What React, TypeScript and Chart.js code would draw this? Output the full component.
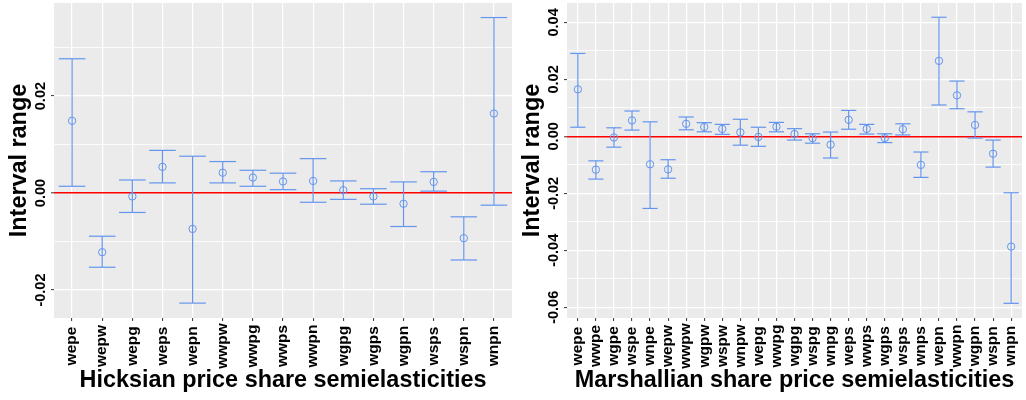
import React, { useEffect, useRef } from 'react';
import { Chart, registerables } from 'chart.js';

Chart.register(...registerables);

// ---------------- data ----------------
const hicksLabels = ['wepe', 'wepw', 'wepg', 'weps', 'wepn', 'wwpw', 'wwpg', 'wwps', 'wwpn', 'wgpg', 'wgps', 'wgpn', 'wsps', 'wspn', 'wnpn'];
const hicksEst = [0.0149, -0.0122, -0.0007, 0.0054, -0.0074, 0.0042, 0.0032, 0.0024, 0.0025, 0.0006, -0.0007, -0.0022, 0.0023, -0.0093, 0.0164];
const hicksUpper = [0.0277, -0.0089, 0.0027, 0.0088, 0.0076, 0.0065, 0.0047, 0.0041, 0.0071, 0.0025, 0.0009, 0.0023, 0.0044, -0.0049, 0.0362];
const hicksLower = [0.0014, -0.0153, -0.0040, 0.0021, -0.0227, 0.0021, 0.0014, 0.0007, -0.0019, -0.0013, -0.0023, -0.0069, 0.0004, -0.0138, -0.0025];
const hicksYTicks = [-0.02, -0.01, 0, 0.01, 0.02, 0.03];
const hicksYLabelled = [-0.02, 0, 0.02];

const marshLabels = ['wepe', 'wwpe', 'wgpe', 'wspe', 'wnpe', 'wepw', 'wwpw', 'wgpw', 'wspw', 'wnpw', 'wepg', 'wwpg', 'wgpg', 'wspg', 'wnpg', 'weps', 'wwps', 'wgps', 'wsps', 'wnps', 'wepn', 'wwpn', 'wgpn', 'wspn', 'wnpn'];
const marshEst = [0.0165, -0.0117, -0.0004, 0.0056, -0.0098, -0.0116, 0.0044, 0.0033, 0.0026, 0.0014, -0.0002, 0.0034, 0.0008, -0.0006, -0.0029, 0.0058, 0.0026, -0.0006, 0.0025, -0.0100, 0.0265, 0.0144, 0.0040, -0.0061, -0.0387];
const marshUpper = [0.0291, -0.0086, 0.0030, 0.0089, 0.0051, -0.0082, 0.0068, 0.0048, 0.0042, 0.0060, 0.0032, 0.0049, 0.0027, 0.0009, 0.0015, 0.0091, 0.0042, 0.0009, 0.0044, -0.0055, 0.0418, 0.0194, 0.0086, -0.0013, -0.0198];
const marshLower = [0.0032, -0.0150, -0.0038, 0.0022, -0.0253, -0.0147, 0.0023, 0.0016, 0.0007, -0.0031, -0.0035, 0.0016, -0.0013, -0.0024, -0.0076, 0.0025, 0.0008, -0.0022, 0.0005, -0.0144, 0.0110, 0.0097, -0.0006, -0.0108, -0.0586];
const marshYTicks = [-0.06, -0.05, -0.04, -0.03, -0.02, -0.01, 0, 0.01, 0.02, 0.03, 0.04];
const marshYLabelled = [-0.06, -0.04, -0.02, 0, 0.02, 0.04];

// ---------------- styles ----------------
const BLUE = '#6495ED';
const RED = '#FF0000';
const PANEL_BG = '#EBEBEB';
const FONT = "'Liberation Sans', Arial, sans-serif";

const panelBg = {
  id: 'panelBg',
  beforeDraw(chart: any) {
    const { ctx, chartArea } = chart;
    ctx.save();
    ctx.fillStyle = PANEL_BG;
    ctx.fillRect(chartArea.left, chartArea.top, chartArea.right - chartArea.left, chartArea.bottom - chartArea.top);
    ctx.restore();
  },
};

type PanelProps = {
  left: number;
  labels: string[];
  est: number[];
  upper: number[];
  lower: number[];
  yMin: number;
  yMax: number;
  yTicks: number[];
  yLabelled: number[];
  xTitle: string;
  padRight: number;
  capR: number;
};

function Panel(p: PanelProps) {
  const ref = useRef<HTMLCanvasElement | null>(null);
  useEffect(() => {
    if (!ref.current) return;
    const n = p.labels.length;
    const isMajor = (v: number) => p.yLabelled.some((m) => Math.abs(m - v) < 1e-9);
    const chart = new Chart(ref.current, {
      type: 'scatter',
      data: {
        datasets: [
          {
            type: 'bar',
            data: p.labels.map((_, i) => ({ x: i, y: [p.lower[i], p.upper[i]] })),
            backgroundColor: BLUE,
            borderWidth: 0,
            barThickness: 1.2,
            inflateAmount: 0,
          } as any,
          {
            type: 'scatter',
            data: p.upper.map((v, i) => ({ x: i, y: v })),
            pointStyle: 'line',
            pointRadius: p.capR,
            borderColor: BLUE,
            pointBorderWidth: 1.2,
            showLine: false,
          } as any,
          {
            type: 'scatter',
            data: p.lower.map((v, i) => ({ x: i, y: v })),
            pointStyle: 'line',
            pointRadius: p.capR,
            borderColor: BLUE,
            pointBorderWidth: 1.2,
            showLine: false,
          } as any,
          {
            type: 'scatter',
            data: p.est.map((v, i) => ({ x: i, y: v })),
            pointStyle: 'circle',
            pointRadius: 3.7,
            backgroundColor: 'rgba(0,0,0,0)',
            borderColor: BLUE,
            pointBorderWidth: 1,
            showLine: false,
          } as any,
        ],
      },
      options: {
        animation: false,
        responsive: false,
        devicePixelRatio: 1,
        layout: { autoPadding: false, padding: { top: 3, right: p.padRight, left: 0, bottom: 0 } },
        plugins: { legend: { display: false }, tooltip: { enabled: false } },
        scales: {
          x: {
            type: 'linear',
            min: -0.6,
            max: n - 1 + 0.6,
            offset: false,
            afterBuildTicks: (s: any) => {
              s.ticks = p.labels.map((_, i) => ({ value: i }));
            },
            afterFit: (s: any) => {
              s.height = 82;
              s.paddingLeft = 0;
              s.paddingRight = 0;
              s._getXAxisLabelAlignment = () => 'center';
            },
            ticks: {
              autoSkip: false,
              minRotation: 90,
              maxRotation: 90,
              padding: 25,
              color: '#000',
              font: { family: FONT, size: 15.5, weight: 'bold' },
              callback: (v: any) => p.labels[Math.round(Number(v))] ?? '',
            },
            grid: {
              offset: false,
              color: '#FFFFFF',
              lineWidth: 1.2,
              tickColor: '#333333',
              tickLength: 3,
              tickWidth: 1,
            },
            border: { display: false },
            title: {
              display: true,
              text: p.xTitle,
              color: '#000',
              font: { family: FONT, size: 23.4, weight: 'bold', lineHeight: 1.2 },
              padding: { top: 0, bottom: 5.3 },
            },
          },
          y: {
            type: 'linear',
            min: p.yMin,
            max: p.yMax,
            afterBuildTicks: (s: any) => {
              s.ticks = p.yTicks.map((v) => ({ value: v }));
            },
            afterFit: (s: any) => {
              s.width = 54;
              s.paddingTop = 0;
              s.paddingBottom = 0;
            },
            ticks: {
              autoSkip: false,
              minRotation: 90,
              maxRotation: 90,
              crossAlign: 'center',
              padding: -7,
              color: '#000',
              font: { family: FONT, size: 14.5, weight: 'bold' },
              callback: (v: any) => (isMajor(Number(v)) ? Number(v).toFixed(2) : ''),
            },
            grid: {
              color: (c: any) => (Math.abs(c.tick?.value ?? 1) < 1e-9 ? RED : '#FFFFFF'),
              lineWidth: (c: any) => {
                const v = c.tick?.value ?? 1;
                if (Math.abs(v) < 1e-9) return 1.6;
                return isMajor(v) ? 1.2 : 0.8;
              },
              tickColor: (c: any) => (isMajor(c.tick?.value ?? 1) ? '#333333' : 'rgba(0,0,0,0)'),
              tickLength: 3,
              tickWidth: 1,
            },
            border: { display: false },
            title: {
              display: true,
              text: 'Interval range',
              color: '#000',
              font: { family: FONT, size: 23.4, weight: 'bold', lineHeight: 1.2 },
              padding: { top: 5.6, bottom: 0 },
            },
          },
        },
      } as any,
      plugins: [panelBg],
    });
    return () => chart.destroy();
  }, []);
  return (
    <canvas
      ref={ref}
      width={513}
      height={400}
      style={{ position: 'absolute', left: p.left, top: 0, width: 513, height: 400 }}
    />
  );
}

export default function App() {
  return (
    <div style={{ position: 'absolute', left: 0, top: 0, width: 1026, height: 400, background: '#FFFFFF' }}>
      <Panel
        left={0}
        labels={hicksLabels}
        est={hicksEst}
        upper={hicksUpper}
        lower={hicksLower}
        yMin={-0.02577}
        yMax={0.0392}
        yTicks={hicksYTicks}
        yLabelled={hicksYLabelled}
        xTitle="Hicksian price share semielasticities"
        padRight={1}
        capR={13.3}
      />
      <Panel
        left={513}
        labels={marshLabels}
        est={marshEst}
        upper={marshUpper}
        lower={marshLower}
        yMin={-0.06375}
        yMax={0.0468}
        yTicks={marshYTicks}
        yLabelled={marshYLabelled}
        xTitle="Marshallian share price semielasticities"
        padRight={4}
        capR={7.6}
      />
    </div>
  );
}
